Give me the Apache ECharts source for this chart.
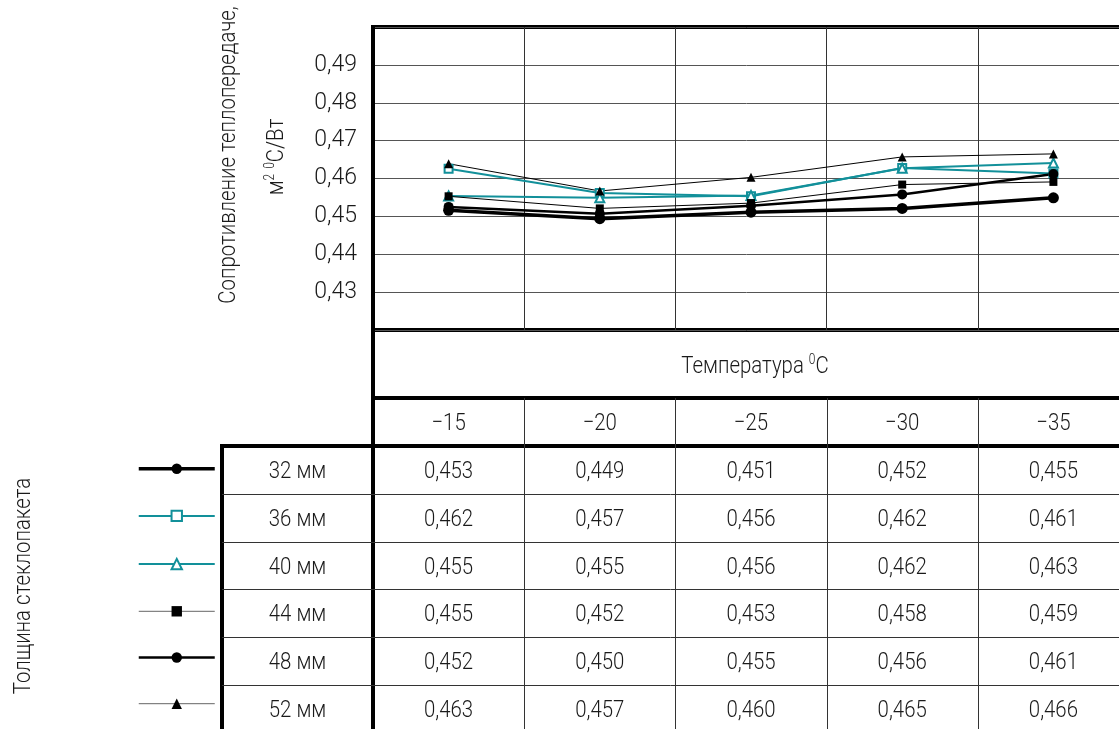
<!DOCTYPE html>
<html><head><meta charset="utf-8">
<script src="https://cdn.jsdelivr.net/npm/echarts@6/dist/echarts.min.js"></script>
<style>html,body{margin:0;padding:0;background:#fff}#c{width:1119px;height:729px}</style>
</head><body><div id="c"></div>
<script>
// ---------- data ----------
const temps = ['−15', '−20', '−25', '−30', '−35'];
const thickness = ['32 мм', '36 мм', '40 мм', '44 мм', '48 мм', '52 мм'];
// plotted values
const p32 = [0.4516, 0.4494, 0.4511, 0.4521, 0.4549];
const p36 = [0.4626, 0.4562, 0.4553, 0.4628, 0.4613];
const p40 = [0.4554, 0.4549, 0.4555, 0.4627, 0.4641];
const p44 = [0.4553, 0.4521, 0.4535, 0.4584, 0.4591];
const p48 = [0.4525, 0.4507, 0.4528, 0.4558, 0.4612];
const p52 = [0.4639, 0.4567, 0.4603, 0.4657, 0.4665];
// tabulated values (printed in the table)
const t32 = [0.453, 0.449, 0.451, 0.452, 0.455];
const t36 = [0.462, 0.457, 0.456, 0.462, 0.461];
const t40 = [0.455, 0.455, 0.456, 0.462, 0.463];
const t44 = [0.455, 0.452, 0.453, 0.458, 0.459];
const t48 = [0.452, 0.450, 0.455, 0.456, 0.461];
const t52 = [0.463, 0.457, 0.460, 0.465, 0.466];
const yMin = 0.42, yMax = 0.50, yStep = 0.01;
const yTitle1 = 'Сопротивление теплопередаче,';
const xTitle = 'Температура';
const sideTitle = 'Толщина стеклопакета';

// ---------- styling ----------
const FONT = 'Roboto, "DejaVu Sans Condensed", sans-serif';
const FW = 300;
const FS = 24;
const SX = 0.85;
const DY = 2;
const TXT = '#1a1a1a';
const TEAL = '#12909a';
const plotted = [p32, p36, p40, p44, p48, p52];
const tables = [t32, t36, t40, t44, t48, t52];
const styles = [
  {color: '#000', width: 3.5, symbol: 'circle', size: 11, legendColor: '#000'},
  {color: TEAL, width: 2, symbol: 'emptyRect', size: 8, legendColor: TEAL},
  {color: TEAL, width: 2, symbol: 'emptyTriangle', size: 9, legendColor: TEAL},
  {color: '#000', width: 1, symbol: 'rect', size: 8, legendColor: '#666'},
  {color: '#000', width: 2.5, symbol: 'circle', size: 10, legendColor: '#000'},
  {color: '#000', width: 1, symbol: 'triangle', size: 9, legendColor: '#666'}
];

const GL = 373, GT = 27, GW = 756, GH = 303;
const chart = echarts.init(document.getElementById('c'), null, {renderer: 'canvas'});
const fmt = v => v.toFixed(3).replace('.', ',');

chart.setOption({
  animation: false,
  backgroundColor: '#fff',
  grid: {left: GL, top: GT, width: GW, height: GH, show: true, borderColor: '#000', borderWidth: 4,
         backgroundColor: 'transparent', outerBoundsMode: 'none', containLabel: false},
  legend: {
    orient: 'vertical', left: 137, top: 463.5, padding: 0,
    itemWidth: 76, itemHeight: 13, itemGap: 35.8,
    formatter: () => '', textStyle: {fontSize: 1, lineHeight: 1},
    selectedMode: false,
    data: thickness.map((n, i) => ({name: n, lineStyle: {width: styles[i].width, color: styles[i].legendColor}}))
  },
  xAxis: {
    type: 'category', data: temps, boundaryGap: true,
    axisLine: {show: false}, axisTick: {show: false}, axisLabel: {show: false},
    splitLine: {show: true, interval: 0, lineStyle: {color: '#333', width: 1}}
  },
  yAxis: {
    type: 'value', min: yMin, max: yMax, interval: yStep,
    axisLine: {show: false}, axisTick: {show: false},
    axisLabel: {
      margin: 16, fontFamily: FONT, fontWeight: FW, fontSize: 23, color: TXT, padding: [4, 0, 0, 0],
      formatter: v => (Math.abs(v - yMin) < 1e-6 || Math.abs(v - yMax) < 1e-6) ? '' : v.toFixed(2).replace('.', ',')
    },
    splitLine: {show: true, lineStyle: {color: '#555', width: 1}}
  },
  series: plotted.map((d, i) => ({
    name: thickness[i], type: 'line', data: d,
    symbol: styles[i].symbol, symbolSize: styles[i].size, showAllSymbol: true,
    lineStyle: {color: styles[i].color, width: styles[i].width},
    itemStyle: {color: styles[i].color, borderWidth: styles[i].symbol.startsWith('empty') ? 2 : 0},
    emphasis: {disabled: true}
  }))
});

// ---------- table under the plot ----------
const cx = temps.map((t, i) => chart.convertToPixel({xAxisIndex: 0}, i));
const colW = GW / temps.length;
const bounds = temps.map((t, i) => GL + colW * i);
const yBottom = GT + GH;          // 330
const yHead = 398, yRows = 446, ROW = 47.8, H = 729, LEFTCOL = 222, RIGHT = 1119;
const els = [];
const line = (x1, y1, x2, y2, w, c) => els.push({type: 'line', silent: true, z: 10,
  shape: {x1, y1, x2, y2}, style: {stroke: c || '#000', lineWidth: w}});
const text = (x, y, t, extra) => els.push(Object.assign({type: 'text', silent: true, z: 11, x, y, scaleX: SX,
  style: {text: t, x: 0, y: 0, align: 'center', verticalAlign: 'middle', fontFamily: FONT, fontWeight: FW, fontSize: FS, fill: TXT}}, extra || {}));
const richStyle = {
  a: {fontFamily: FONT, fontWeight: FW, fontSize: FS, fill: TXT, lineHeight: 26, verticalAlign: 'bottom'},
  s: {fontFamily: FONT, fontWeight: FW, fontSize: 14, fill: TXT, lineHeight: 26, verticalAlign: 'top'}
};

// thick frame lines
line(GL, GT - 2, GL, H, 4);
line(GL, yHead, RIGHT, yHead, 4);
line(LEFTCOL, yRows, RIGHT, yRows, 4);
line(LEFTCOL, yRows - 2, LEFTCOL, H, 4);
// thin row lines
for (let k = 1; k < thickness.length; k++) {
  const y = Math.round(yRows + ROW * k) + 0.5;
  line(LEFTCOL, y, RIGHT, y, 1, '#333');
}
// thin column lines in table
for (let i = 1; i < bounds.length; i++) {
  const x = Math.round(bounds[i]) + 0.5;
  line(x, yHead, x, H, 1, '#333');
}
// temperature title
els.push({type: 'text', silent: true, z: 11, x: 755, y: (yBottom + yHead) / 2 + DY, scaleX: SX,
  style: {text: '{a|' + xTitle + ' }{s|0}{a|C}', x: 0, y: 0, align: 'center', verticalAlign: 'middle', rich: richStyle}});
// column headers
temps.forEach((t, i) => text(cx[i], (yHead + yRows) / 2 + DY, t));
// rows
thickness.forEach((name, k) => {
  const y = yRows + ROW * (k + 0.5) + DY;
  text((LEFTCOL + GL) / 2, y, name);
  tables[k].forEach((v, i) => text(cx[i], y, fmt(v)));
});
// y axis title (two rotated lines)
text(229, 155, yTitle1, {rotation: Math.PI / 2});
els.push({type: 'text', silent: true, z: 11, x: 276, y: 157, rotation: Math.PI / 2, scaleX: SX,
  style: {text: '{a|м}{s|2}{a| }{s|0}{a|C/Вт}', x: 0, y: 0, align: 'center', verticalAlign: 'middle', rich: richStyle}});
// side title
text(24, 586, sideTitle, {rotation: Math.PI / 2});

chart.setOption({graphic: {elements: els}});
</script></body></html>
